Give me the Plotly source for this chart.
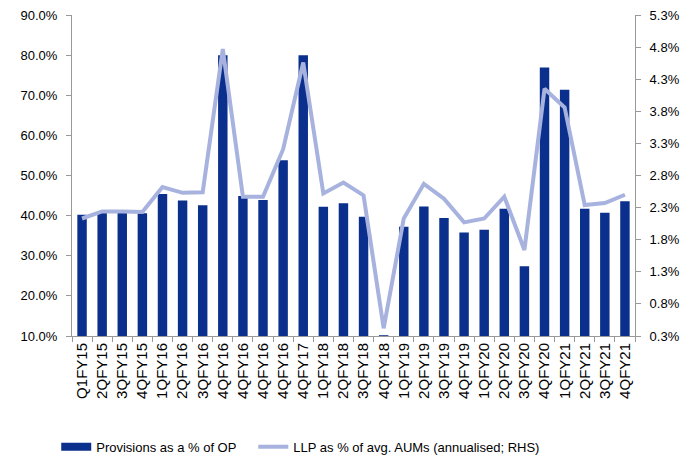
import plotly.graph_objects as go

categories = ["Q1FY15", "2QFY15", "3QFY15", "4QFY15", "1QFY16", "2QFY16", "3QFY16",
              "4QFY16", "4QFY16", "4QFY16", "4QFY16", "4QFY17", "1QFY18", "2QFY18",
              "3QFY18", "4QFY18", "1QFY19", "2QFY19", "3QFY19", "4QFY19", "1QFY20",
              "2QFY20", "3QFY20", "4QFY20", "1QFY21", "2QFY21", "3QFY21", "4QFY21"]

provisions_pct_op = [40.2, 41.0, 41.0, 40.6, 45.4, 43.8, 42.6, 80.0, 44.9, 43.9, 53.8, 80.0,
                     42.2, 43.1, 39.7, 10.2, 37.2, 42.3, 39.4, 35.8, 36.5, 41.7, 27.4, 76.9,
                     71.4, 41.7, 40.7, 43.6]

llp_pct_aum = [2.13, 2.24, 2.24, 2.23, 2.62, 2.53, 2.54, 4.77, 2.47, 2.47, 3.21, 4.56,
               2.52, 2.69, 2.49, 0.42, 2.13, 2.67, 2.44, 2.07, 2.13, 2.47, 1.64, 4.15,
               3.86, 2.34, 2.37, 2.50]

left_ticks = [10, 20, 30, 40, 50, 60, 70, 80, 90]
right_ticks = [0.3, 0.8, 1.3, 1.8, 2.3, 2.8, 3.3, 3.8, 4.3, 4.8, 5.3]

bar_color = "#0B2F8C"
line_color = "#A7B3DE"
positions = list(range(len(categories)))

fig = go.Figure()
fig.add_trace(go.Bar(
    x=positions, y=provisions_pct_op, name="Provisions as a % of OP",
    marker=dict(color=bar_color, line=dict(width=0)), width=0.47, yaxis="y",
    showlegend=False))
# legend proxy so the bar series shows a wide rectangle swatch
fig.add_trace(go.Scatter(
    x=[None], y=[None], name="Provisions as a % of OP", mode="lines",
    line=dict(color=bar_color, width=8), yaxis="y", legend="legend"))
fig.add_trace(go.Scatter(
    x=positions, y=llp_pct_aum, name="LLP as % of avg. AUMs (annualised; RHS)",
    mode="lines", line=dict(color=line_color, width=4), yaxis="y2", legend="legend2"))

axis_color = "#999999"
legend_common = dict(orientation="h", xanchor="left", y=-0.345, yanchor="middle",
                     font=dict(size=13), bgcolor="rgba(0,0,0,0)")
fig.update_layout(
    width=696, height=462,
    margin=dict(l=72, r=61, t=15, b=126, autoexpand=False),
    plot_bgcolor="white", paper_bgcolor="white",
    font=dict(family="Liberation Sans, Arial, sans-serif", size=13, color="#000000"),
    showlegend=True,
    legend=dict(x=-0.028, **legend_common),
    legend2=dict(x=0.322, **legend_common),
    xaxis=dict(range=[-0.5, len(categories) - 0.5], tickmode="array",
               tickvals=positions, ticktext=categories,
               tickangle=-90, showline=True, linecolor=axis_color, linewidth=1,
               ticks="", showgrid=False, tickfont=dict(size=15), zeroline=False),
    xaxis2=dict(range=[0, len(categories)], overlaying="x", tickmode="linear",
                tick0=0, dtick=1, ticks="outside", ticklen=5, tickcolor=axis_color,
                showticklabels=False, showgrid=False, showline=False, zeroline=False,
                side="bottom", anchor="y"),
    yaxis=dict(range=[10, 90], tickvals=left_ticks,
               ticktext=[f"{v:.1f}%" for v in left_ticks],
               showline=True, linecolor=axis_color, linewidth=1, ticks="outside",
               ticklen=5, tickcolor=axis_color, showgrid=False, zeroline=False,
               tickfont=dict(size=13), ticklabelstandoff=6),
    yaxis2=dict(range=[0.3, 5.3], tickvals=right_ticks,
                ticktext=[f"{v:.1f}%" for v in right_ticks],
                overlaying="y", side="right", showline=True, linecolor=axis_color,
                linewidth=1, ticks="outside", ticklen=5, tickcolor=axis_color,
                showgrid=False, zeroline=False, tickfont=dict(size=13),
                ticklabelstandoff=6),
)

# an invisible trace on xaxis2 so its boundary tick marks are drawn
fig.add_trace(go.Scatter(x=[None], y=[None], xaxis="x2", yaxis="y", showlegend=False,
                         hoverinfo="skip"))

fig.write_html("out.html", config={"displayModeBar": False},
               post_script="document.body.style.margin='0';document.body.style.overflow='hidden';")
